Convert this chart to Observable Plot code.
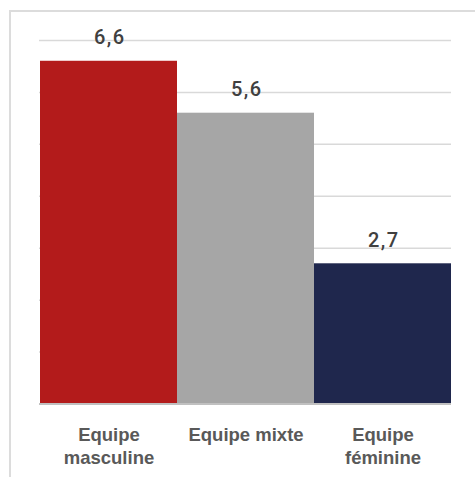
<!DOCTYPE html>
<html>
<head>
<meta charset="utf-8">
<script src="https://cdn.jsdelivr.net/npm/d3@7"></script>
<script src="https://cdn.jsdelivr.net/npm/@observablehq/plot@0.6"></script>
<style>
  html, body { margin: 0; padding: 0; background: #fff; }
  #wrap { position: relative; width: 475px; height: 477px; overflow: hidden; }
  #frame { position: absolute; left: 9px; top: 10px; width: 500px; height: 500px;
           border: 2px solid #dcdcdc; box-sizing: border-box; pointer-events: none; }
  #chart { position: absolute; left: 0; top: 0; }
  .vals text { letter-spacing: 1.5px; }
</style>
</head>
<body>
<div id="wrap"><div id="frame"></div><div id="chart"></div></div>
<script>
const categories = ["Equipe masculine", "Equipe mixte", "Equipe féminine"];
const axisLabels = ["Equipe\nmasculine", "Equipe mixte", "Equipe\nféminine"];
const values = [6.6, 5.6, 2.7];
const valueLabels = ["6,6", "5,6", "2,7"];
const colors = ["#b31b1b", "#a6a6a6", "#1f274d"];
const gridTicks = [1, 2, 3, 4, 5, 6, 7];

const data = categories.map((c, i) => ({cat: c, value: values[i], label: valueLabels[i], color: colors[i]}));

const chart = Plot.plot({
  width: 475,
  height: 477,
  marginLeft: 39,
  marginRight: 24,
  marginTop: 40,
  marginBottom: 73.5,
  style: {background: "transparent", overflow: "visible"},
  x: {domain: categories, padding: 0, axis: null},
  y: {domain: [0, 7], axis: null},
  marks: [
    Plot.ruleY(gridTicks, {stroke: "#d9d9d9", strokeWidth: 1.5}),
    Plot.barY(data, {x: "cat", y: "value", fill: "color"}),
    Plot.ruleY([0], {stroke: "#c0c0c0", strokeWidth: 2}),
    Plot.text(data, {x: "cat", y: "value", text: "label", dy: -17, dx: 0.75, lineAnchor: "bottom",
      fill: "#404040", fontSize: 20, fontFamily: "Roboto", fontWeight: 500, className: "vals"}),
    Plot.axisX({
      tickSize: 0,
      tickPadding: 20.5,
      lineAnchor: "top",
      lineHeight: 1.26,
      tickFormat: d => axisLabels[categories.indexOf(d)],
      fill: "#595959",
      fontSize: 18.5,
      fontFamily: "Liberation Sans",
      fontWeight: "bold",
      label: null
    })
  ]
});
document.getElementById("chart").appendChild(chart);
</script>
</body>
</html>
